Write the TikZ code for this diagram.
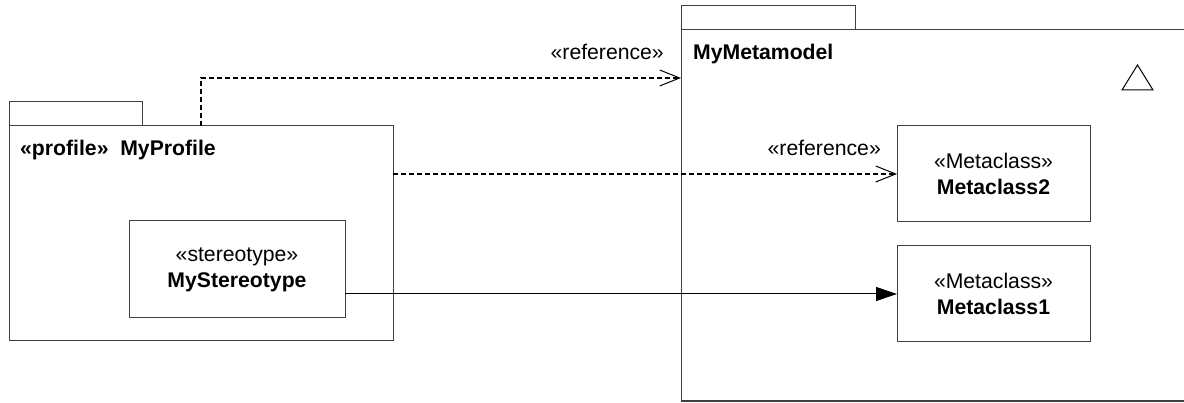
\documentclass[tikz,border=0pt]{standalone}
\usepackage{fontspec}
\setmainfont{Liberation Sans}
\usetikzlibrary{arrows.meta,positioning}

\begin{document}
\begin{tikzpicture}[
  x=1pt, y=-1pt,
  every node/.style={font=\fontsize{21.2}{26}\selectfont},
  frame/.style={draw=black!75, line width=1pt, inner sep=0pt, outer sep=0pt},
  cls/.style={frame, minimum width=193pt, minimum height=96pt, align=center},
  depend/.style={line width=1.2pt, dash pattern=on 5pt off 3pt, -{Straight Barb[length=20pt, width=16pt, line width=1pt]}},
  assoc/.style={line width=1pt, -{Triangle[length=21pt, width=14pt]}}
]
\useasboundingbox (0,0) rectangle (1184,403);
\clip (0,0) rectangle (1184,403);
% profile package
\node[frame, minimum width=384pt, minimum height=215pt] (profile) at (201,233.5) {};
\node[frame, minimum width=133pt, minimum height=24pt, anchor=south west] (profiletab) at (profile.north west) {};
\node[anchor=base west, inner sep=0pt] (profiletitle) at (20,156) {\textbf{«profile»\ \ MyProfile}};
\node[cls, minimum width=216pt, minimum height=97pt] (stereo) at (237,269.5) {«stereotype»\\\textbf{MyStereotype}};
% metamodel package
\node[frame, minimum width=505pt, minimum height=371pt] (mm) at (933.5,215.5) {};
\node[frame, minimum width=174pt, minimum height=24pt, anchor=south west] (mmtab) at (mm.north west) {};
\node[anchor=base west, inner sep=0pt] (mmtitle) at (693,60) {\textbf{MyMetamodel}};
\draw[line width=1pt] (1122,90) -- (1153,90) -- (1137.5,65) -- cycle;
\node[cls] (meta2) at (993.5,174) {«Metaclass»\\\textbf{Metaclass2}};
\node[cls, below=24pt of meta2] (meta1) {«Metaclass»\\\textbf{Metaclass1}};
% connectors
\coordinate (mmref) at ([yshift=-48pt]mm.north west);
\draw[depend] (profile.north) |- (mmref);
\node[anchor=base east, inner sep=0pt] (ref1) at ([xshift=-17pt, yshift=18pt]mmref) {«reference»};
\draw[depend] (profile.east |- meta2.west) -- (meta2.west);
\node[anchor=base east, inner sep=0pt] (ref2) at ([xshift=-16pt, yshift=18pt]meta2.west) {«reference»};
\draw[assoc] (stereo.east |- meta1.west) -- (meta1.west);
\end{tikzpicture}
\end{document}
